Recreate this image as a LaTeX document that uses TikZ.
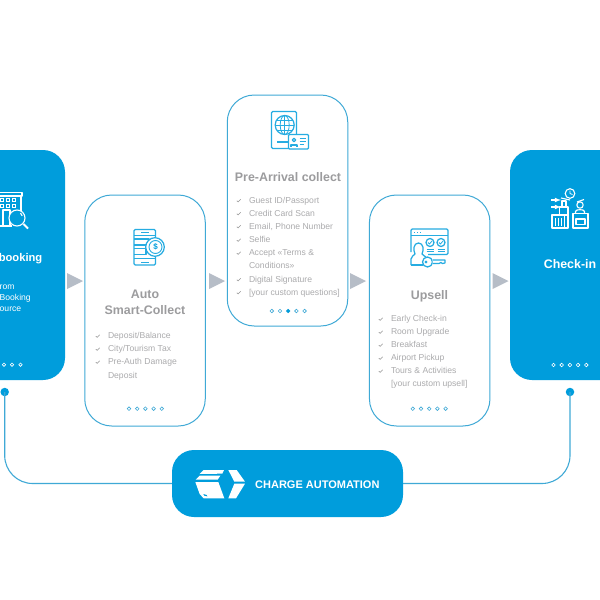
\documentclass[tikz,border=0pt]{standalone}
\usepackage{fontspec}
\setmainfont{Liberation Sans}
\definecolor{cablue}{HTML}{009DDC}
\definecolor{caline}{HTML}{3FA9D6}
\definecolor{catitle}{HTML}{9C9C9E}
\definecolor{catext}{HTML}{ABABAD}
\definecolor{caarrow}{HTML}{B6BDC7}
\newcommand\rowitem[4]{%
  \draw[checkmark] (#2-2.2,#3+0.2) -- (#2-0.9,#3+1.4) -- (#2+1.6,#3-1.2);
  \node[itemtext,name=#1] at (#2+9.8,#3) {#4};}
\newcommand\rowplain[4]{\node[itemtext,name=#1] at (#2+9.8,#3) {#4};}
\newcommand\pagedots[5]{%
  \foreach \k in {0,...,4}{
    \pgfmathsetmacro\dotx{#2+\k*8.2}
    \draw[#1,line width=0.6pt] (\dotx,#3) circle (1.8);
  }}
\begin{document}
\begin{tikzpicture}[x=1pt,y=-1pt,
  whitecard/.style={draw=caline,line width=1pt,fill=white,rounded corners=27pt,minimum width=120.5pt,minimum height=231pt,inner sep=0pt},
  bluecard/.style={fill=cablue,rounded corners=22pt,minimum width=130pt,minimum height=230pt,inner sep=0pt},
  cardtitle/.style={font=\bfseries\fontsize{12.4}{14}\selectfont,text=catitle,inner sep=0pt,anchor=mid},
  bluetitle/.style={font=\bfseries\fontsize{12.4}{14}\selectfont,text=white,inner sep=0pt,anchor=mid},
  itemtext/.style={font=\fontsize{8.6}{10}\selectfont,text=catext,inner sep=0pt,anchor=mid west},
  bluetext/.style={font=\fontsize{8.6}{10}\selectfont,text=white,inner sep=0pt,anchor=mid west},
  checkmark/.style={draw=gray!85,line width=0.55pt},
  flowarrow/.style={fill=caarrow},
  connector/.style={draw=caline,line width=1.1pt,rounded corners=28pt},
  anchordot/.style={circle,fill=cablue,minimum size=8.5pt,inner sep=0pt},
  iconb/.style={draw=cablue!85!white,line width=1.25pt,line join=round},
  iconw/.style={draw=white,line width=1.1pt,line join=round}]
\useasboundingbox (0,0) rectangle (600,600);
\fill[white] (0,0) rectangle (600,600);

% cards
\node[bluecard] (booking) at (0,265) {};
\node[bluecard] (checkin) at (575,265) {};
\node[whitecard] (auto) at (145,310.5) {};
\node[whitecard] (pre) at (287.5,210.5) {};
\node[whitecard] (upsell) at (429.7,310.5) {};

% flow arrows
\fill[flowarrow] (67,273) -- (83,281) -- (67,289) -- cycle;
\fill[flowarrow] (209,273) -- (225,281) -- (209,289) -- cycle;
\fill[flowarrow] (350,273) -- (366,281) -- (350,289) -- cycle;
\fill[flowarrow] (492.5,273) -- (508.5,281) -- (492.5,289) -- cycle;

% bottom
\node[fill=cablue,rounded corners=22pt,minimum width=231pt,minimum height=67pt,inner sep=0pt] (charge) at (287.5,483.5) {};
\node[anchordot] (dotL) at (4.7,392) {};
\node[anchordot] (dotR) at (570,392) {};
\draw[connector] (dotL.center) |- (charge.west);
\draw[connector] (dotR.center) |- (charge.east);
\node[font=\bfseries\fontsize{11}{13}\selectfont,text=white,inner sep=0pt,anchor=mid west] (chargetext) at (255,486) {CHARGE AUTOMATION};

% logo
\begin{scope}[shift={(165,445)},x=0.3333pt,y=-0.3333pt]
\fill[white] (104,87) -- (116,75) -- (177,75) -- (172,86) -- cycle;
\fill[white] (92,104) -- (104,92) -- (166,92) -- (158,104) -- cycle;
\fill[white] (91,111) -- (160,111) -- (178,160) -- (116,160) -- (104,147) -- cycle;
\fill[white] (190,75) -- (215,75) -- (240,110) -- (208,110) -- cycle;
\fill[white] (208,116) -- (240,116) -- (213,160) -- (190,160) -- cycle;
\fill[cablue] (115,147) -- (125,150) -- (127,154) -- (118,152) -- cycle;
\end{scope}

% booking card text
\node[bluetitle,anchor=mid east,font=\bfseries\fontsize{11.2}{13}\selectfont] (bookingtitle) at (42.5,258.5) {booking};
\node[bluetext] (b1) at (-0.5,286.5) {rom};
\node[bluetext] (b2) at (-0.5,297.5) {Booking};
\node[bluetext] (b3) at (-0.5,308.5) {ource};
\foreach \x in {4,12,20.5}{\draw[white,line width=0.6pt] (\x,364.7) circle (1.7);}

% check-in
\node[bluetitle] (checkintitle) at (570,265.5) {Check-in};
\pagedots{white}{553.5}{365}{}{}

% auto
\node[cardtitle] (autotitle1) at (145,295.5) {Auto};
\node[cardtitle] (autotitle2) at (145,312.2) {Smart-Collect};
\rowitem{a1}{98}{336}{Deposit/Balance}
\rowitem{a2}{98}{349}{City/Tourism Tax}
\rowitem{a3}{98}{362}{Pre-Auth Damage}
\rowplain{a4}{98}{375.5}{Deposit}
\pagedots{caline}{129}{408.7}{}{}

% pre-arrival
\node[cardtitle] (pretitle) at (288,178.5) {Pre-Arrival collect};
\rowitem{p1}{239}{200.5}{Guest ID/Passport}
\rowitem{p2}{239}{213.5}{Credit Card Scan}
\rowitem{p3}{239}{226.5}{Email, Phone Number}
\rowitem{p4}{239}{240}{Selfie}
\rowitem{p5}{239}{253}{Accept «Terms \&}
\rowplain{p6}{239}{266}{Conditions»}
\rowitem{p7}{239}{279.5}{Digital Signature}
\rowitem{p8}{239}{292.5}{[your custom questions]}
\pagedots{caline}{271.8}{311}{}{}
\fill[cablue] (288.2,311) circle (1.9);

% upsell
\node[cardtitle] (upselltitle) at (429.5,296.5) {Upsell};
\rowitem{u1}{381}{319}{Early Check-in}
\rowitem{u2}{381}{332}{Room Upgrade}
\rowitem{u3}{381}{345}{Breakfast}
\rowitem{u4}{381}{358}{Airport Pickup}
\rowitem{u5}{381}{371}{Tours \& Activities}
\rowplain{u6}{381}{384}{[your custom upsell]}
\pagedots{caline}{412.8}{408.7}{}{}

% hotel icon
\draw[iconw] (-1,192.5) -- (22,192.5) -- (22,196) -- (-1,196);
\draw[iconw] (21,196) -- (21,211);
\foreach \yy in {200,206}{\foreach \xx in {2,8,14}{\draw[white,line width=0.8pt] (\xx-1.5,\yy-1.5) rectangle (\xx+1.5,\yy+1.5);}}
\draw[iconw] (3,225.5) -- (3,210) -- (10,210) -- (10,225.5);
\draw[iconw] (-1,226) -- (12,226);
\draw[iconw,fill=cablue] (17,218) circle (8);
\draw[iconw] (20.5,213) arc (-50:-10:5);
\draw[iconw,line width=1.8pt] (23.5,224) -- (28,228.5);

% phone icon
\draw[iconb,rounded corners=1.2pt] (134,229.5) rectangle (155.5,265);
\draw[iconb] (134,235.5) -- (155.5,235.5) (134,258.5) -- (155.5,258.5);
\draw[iconb,line width=0.9pt] (141,232.5) -- (149,232.5) (141,262) -- (149,262);
\draw[iconb] (134,239) -- (149,239) -- (149,245) -- (134,245);
\draw[iconb] (134,248.5) -- (146,248.5) -- (146,254.5) -- (134,254.5);
\draw[iconb,fill=white] (155,247) circle (9.3);
\draw[iconb,line width=0.9pt] (155.5,247) circle (6.5);
\node[font=\bfseries\fontsize{8}{9}\selectfont,text=cablue,inner sep=0pt] (dollar) at (155.5,247) {\$};

% passport icon
\draw[iconb,rounded corners=1.2pt] (271.5,111.5) rectangle (296.5,148.5);
\draw[iconb] (284.7,125) circle (9.5);
\draw[iconb,line width=0.8pt] (284.7,125) ellipse (4.5 and 9.5);
\draw[iconb,line width=0.8pt] (284.7,115.5) -- (284.7,134.5) (275.2,125) -- (294.2,125) (276.5,120) -- (293,120) (276.5,130) -- (293,130);
\draw[iconb,line width=1.6pt] (277,142) -- (289,142);
\draw[iconb,fill=white,rounded corners=1pt] (288.5,134.5) rectangle (308.5,149);
\draw[iconb] (294,140) circle (1.8);
\draw[iconb] (291,146.5) -- (291,145) -- (297,145) -- (297,146.5);
\draw[iconb,line width=0.8pt] (299.5,138.5) -- (306,138.5) (299.5,141.5) -- (306,141.5) (299.5,144.5) -- (304,144.5);

% upsell icon
\draw[iconb,rounded corners=1.2pt] (428,254.5) -- (448,254.5) -- (448,229) -- (411,229) -- (411,252);
\draw[iconb] (411,235.5) -- (448,235.5);
\draw[iconb,line width=0.7pt] (414,232.3) -- (415,232.3) (417,232.3) -- (418,232.3) (420,232.3) -- (421,232.3);
\draw[iconb] (430,242.5) circle (4);
\draw[iconb] (441,242.5) circle (4);
\draw[iconb,line width=0.8pt] (428,242.5) -- (429.5,244) -- (432,241) (439,242.5) -- (440.5,244) -- (443,241);
\draw[iconb,line width=0.8pt] (426.5,249) -- (433.5,249) (426.5,251.5) -- (433.5,251.5) (437.5,249) -- (444.5,249) (437.5,251.5) -- (444.5,251.5);
\draw[iconb,fill=white] (411,265) -- (411,259) .. controls (411,256.5) and (414,255.5) .. (415,254) .. controls (413,250) and (413.5,243) .. (418.5,243) .. controls (423.5,243) and (424,250) .. (422,254) .. controls (423,255.5) and (425,256) .. (426,257);
\draw[iconb] (411,265) -- (423,265);
\draw[iconb,fill=white] (427.5,262) circle (5);
\draw[iconb,fill=white] (432.5,260) -- (445,260) -- (445,263) -- (442.5,263.5) -- (441,262.5) -- (439,263.5) -- (432.5,263.5);
\draw[iconb,line width=0.8pt] (426,262) circle (1);

% check-in icon
\draw[iconw] (570,193.5) circle (4.8);
\draw[iconw,line width=0.8pt] (570,190.5) -- (570,193.5) -- (572.5,194.5);
\draw[iconw,-latex] (551,200) -- (561,200);
\draw[iconw,-latex] (551,207) -- (561,207);
\draw[iconw] (552,228) -- (552,215) -- (568,215) -- (568,228) -- cycle;
\draw[iconw,line width=0.8pt] (555,218) -- (555,226) (558,218) -- (558,226) (561,218) -- (561,226) (564.5,215) -- (564.5,228);
\draw[iconw] (559.5,215) -- (559.5,207) -- (568,207) -- (568,215);
\draw[iconw] (562,207) -- (562,201) -- (566,201) -- (566,207);
\draw[iconw] (561,198) -- (570,200);
\draw[iconw] (573,228) -- (573,213.5) -- (588,213.5) -- (588,228) -- cycle;
\draw[iconw] (576,219) rectangle (585,224.5);
\draw[iconw] (580,205) circle (3.2);
\draw[iconw] (575.5,213.5) -- (575.5,211.5) .. controls (575.5,209) and (584.5,209) .. (584.5,211.5) -- (584.5,213.5);
\draw[iconw] (577,202) -- (584,199.5);
\end{tikzpicture}
\end{document}
